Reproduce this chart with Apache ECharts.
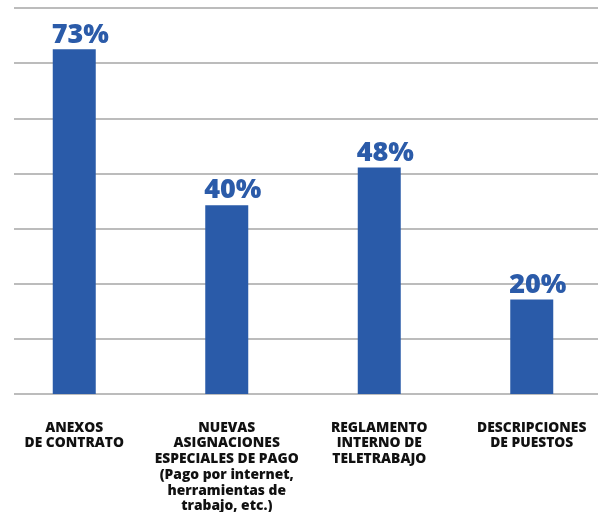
<!DOCTYPE html>
<html><head><meta charset="utf-8">
<script src="https://cdn.jsdelivr.net/npm/echarts@6/dist/echarts.min.js"></script>
<style>html,body{margin:0;padding:0;background:#fff}#c{width:598px;height:512px}</style>
</head><body><div id="c"></div>
<script>
const categories = [
  "ANEXOS\nDE CONTRATO",
  "NUEVAS\nASIGNACIONES\nESPECIALES DE PAGO\n(Pago por internet,\nherramientas de\ntrabajo, etc.)",
  "REGLAMENTO\nINTERNO DE\nTELETRABAJO",
  "DESCRIPCIONES\nDE PUESTOS"
];
const values = [73, 40, 48, 20];
const yMax = 81.76;
const yInterval = 11.68;

const chart = echarts.init(document.getElementById('c'), null, {renderer: 'canvas'});
chart.setOption({
  animation: false,
  grid: [
    {left: 14, right: 0, top: 8, bottom: 118, outerBoundsMode: 'none', containLabel: false},
    {left: -2, right: -10, top: 8, bottom: 118, outerBoundsMode: 'none', containLabel: false}
  ],
  xAxis: [
    {gridIndex: 0, type: 'category', data: categories, show: false},
    {gridIndex: 1, type: 'category', data: categories,
     axisLine: {show: false}, axisTick: {show: false},
     axisLabel: {interval: 0, margin: 26, color: '#111', fontFamily: 'Open Sans', fontWeight: 800,
       fontSize: 13.8, lineHeight: 15.7, align: 'center', verticalAlign: 'top'}}
  ],
  yAxis: [
    {gridIndex: 0, type: 'value', min: 0, max: yMax, interval: yInterval,
     axisLine: {show: false}, axisTick: {show: false}, axisLabel: {show: false},
     splitLine: {show: true, lineStyle: {color: '#a6a6a6', width: 1.5}}},
    {gridIndex: 1, type: 'value', min: 0, max: yMax, interval: yInterval, show: false,
     splitLine: {show: false}}
  ],
  series: [{
    type: 'bar', xAxisIndex: 1, yAxisIndex: 1, data: values, barWidth: 43,
    itemStyle: {color: '#2a5ba9'},
    label: {show: true, position: 'top', distance: 1, offset: [6, 0],
      formatter: p => p.value + '%', color: '#2b5ba9', fontFamily: 'Open Sans',
      fontWeight: 800, fontSize: 27}
  }]
});
</script></body></html>
